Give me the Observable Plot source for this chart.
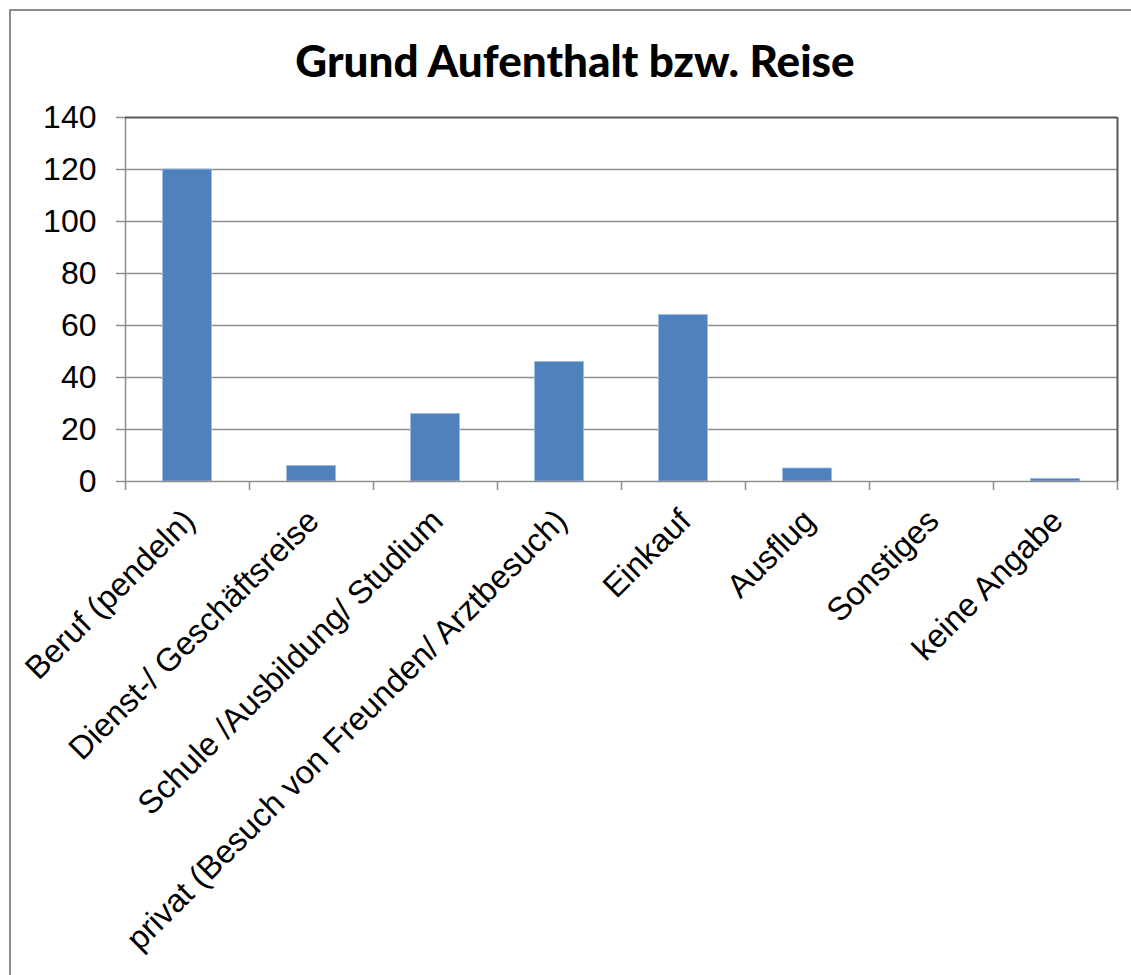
<!DOCTYPE html>
<html>
<head>
<meta charset="utf-8">
<script src="https://cdn.jsdelivr.net/npm/d3@7"></script>
<script src="https://cdn.jsdelivr.net/npm/@observablehq/plot@0.6"></script>
<style>
  body { margin: 0; background: #fff; }
  #wrap { position: relative; width: 1131px; height: 975px; overflow: hidden; background: #fff; }
  #border { position: absolute; left: 9px; top: 9px; width: 1200px; height: 1100px;
            border-left: 2px solid #8c8c8c; border-top: 2px solid #8c8c8c; box-sizing: border-box; }
  #title { position: relative; height: 100px; box-sizing: border-box; padding-top: 38px; padding-left: 19px;
           text-align: center; font-family: Lato, "Open Sans", sans-serif; font-weight: 900;
           font-size: 44px; line-height: 44px; color: #000; }
  #chart { position: relative; }
</style>
</head>
<body>
<div id="wrap">
  <div id="border"></div>
  <div id="title">Grund Aufenthalt bzw. Reise</div>
  <div id="chart"></div>
</div>
<script>
const categories = [
  "Beruf (pendeln)",
  "Dienst-/ Geschäftsreise",
  "Schule /Ausbildung/ Studium",
  "privat (Besuch von Freunden/ Arztbesuch)",
  "Einkauf",
  "Ausflug",
  "Sonstiges",
  "keine Angabe"
];
const counts = [120, 6, 26, 46, 64, 5, 0, 1];
const yTicks = [0, 20, 40, 60, 80, 100, 120, 140];

const data = categories.map((c, i) => ({cat: c, i, value: counts[i]}));
const boundaries = d3.range(0, categories.length + 1);

const gridColor = "#8e8e8e";
const frameColor = "#595959";

const plot = Plot.plot({
  width: 1131,
  height: 875,
  marginLeft: 125,
  marginRight: 14,
  marginTop: 17,
  marginBottom: 494,
  style: {fontFamily: "'Liberation Sans', Arial, sans-serif", fontSize: "32px", color: "#000", background: "transparent"},
  x: {type: "linear", domain: [0, categories.length], axis: null},
  y: {domain: [0, 140], axis: null},
  marks: [
    Plot.ruleY(yTicks.filter(t => t > 0 && t < 140), {stroke: gridColor, strokeWidth: 1.5}),
    Plot.rect(data, {x1: "i", x2: d => d.i + 1, y1: 0, y2: "value", fill: "#4F81BD", stroke: "#9fbde3", strokeWidth: 0.8, insetLeft: 37.5, insetRight: 37.5}),
    Plot.ruleY([0], {stroke: gridColor, strokeWidth: 1.5}),
    Plot.ruleX([0], {stroke: gridColor, strokeWidth: 1.5}),
    Plot.ruleY([140], {stroke: frameColor, strokeWidth: 2}),
    Plot.ruleX([categories.length], {stroke: frameColor, strokeWidth: 2}),
    Plot.axisY(yTicks, {tickSize: 9, tickPadding: 20, stroke: gridColor, strokeWidth: 1.5, fontSize: 32, tickFormat: d => String(d), label: null}),
    Plot.axisX(boundaries, {tickSize: 9, stroke: gridColor, strokeWidth: 1.5, tickFormat: () => "", label: null}),
    Plot.text(data, {x: d => d.i + 0.5, frameAnchor: "bottom", text: "cat", rotate: -45, textAnchor: "end", lineAnchor: "middle", dx: 2, dy: 34, fontSize: 32.5, fill: "#000"})
  ]
});
document.getElementById("chart").appendChild(plot);
</script>
</body>
</html>
